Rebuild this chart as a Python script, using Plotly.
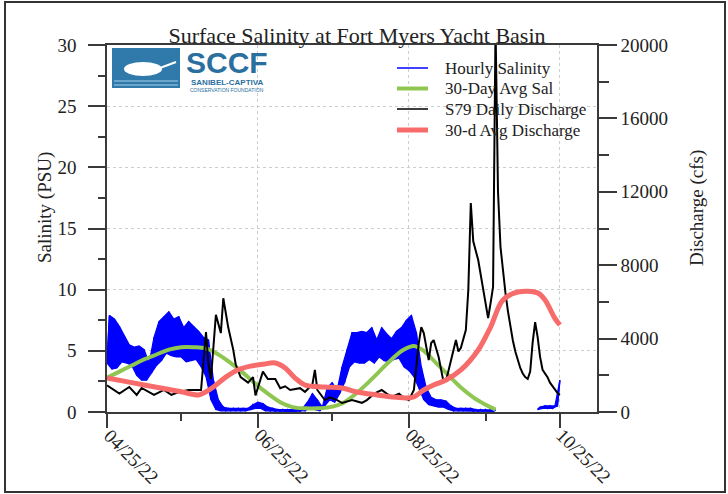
import plotly.graph_objects as go
import pandas as pd

BASE = pd.Timestamp("2022-04-25")

# ---------------- data (days since 04/25/22) ----------------
# Hourly salinity envelope (PSU) read every 2 days: low / high of the band
sal_days = list(range(0, 184, 2))
sal_lo = [4.0, 3.5, 3.6, 4.1, 4.0, 3.8, 3.0, 2.6, 2.6, 3.2,
          3.8, 4.2, 4.8, 4.6, 4.5, 4.5, 4.1, 4.2, 4.3, 3.7,
          2.9, 1.0, 0.2, 0.1, 0.1, 0.1, 0.1, 0.1, 0.1, 0.2,
          0.3, 0.3, 0.1, 0.1, 0.05, 0.05, 0.05, 0.05, 0.05, 0.05,
          0.1, 0.3, 0.2, 0.1, 0.5, 1.0, 0.8, 1.5, 2.4, 3.7,
          4.1, 4.0, 4.0, 4.3, 4.0, 4.5, 4.2, 4.1, 4.3, 4.4,
          3.7, 3.4, 2.9, 2.0, 1.0, 0.6, 0.5, 0.4, 0.4, 0.2,
          0.1, 0.1, 0.1, 0.1, 0.05, 0.05, 0.05, 0.05, 0.05, None,
          None, None, None, None, None, None, None, 0.2, 0.3, 0.3,
          0.3, 0.5]
sal_hi = [7.9, 7.6, 7.0, 6.2, 5.5, 5.3, 5.4, 5.1, 4.0, 6.1,
          7.4, 7.8, 8.2, 7.6, 7.8, 6.9, 7.4, 7.0, 6.6, 6.1,
          5.9, 2.6, 1.0, 0.4, 0.3, 0.3, 0.3, 0.3, 0.3, 0.6,
          0.8, 0.7, 0.4, 0.3, 0.2, 0.2, 0.2, 0.2, 0.2, 0.3,
          0.8, 1.5, 1.0, 0.4, 2.0, 2.4, 1.8, 3.7, 5.1, 6.5,
          6.5, 6.6, 6.5, 6.9, 5.9, 6.9, 6.4, 6.0, 6.6, 6.9,
          7.5, 7.9, 6.5, 3.7, 2.0, 1.2, 1.0, 1.0, 0.9, 0.5,
          0.3, 0.3, 0.3, 0.3, 0.2, 0.2, 0.2, 0.2, 0.15, None,
          None, None, None, None, None, None, None, 0.4, 0.5, 0.5,
          0.5, 2.6]

# 30-day average salinity (PSU)
avgsal_days = [0, 5, 10, 15, 20, 25, 30, 35, 40, 45, 50, 55, 60, 65, 70, 75, 80, 85,
               90, 95, 100, 105, 110, 115, 120, 124, 128, 133, 138, 143, 148, 153, 157]
avgsal_vals = [2.8, 3.3, 3.8, 4.3, 4.7, 5.1, 5.3, 5.3, 5.2, 4.7, 4.0, 3.2, 2.3, 1.5, 0.8, 0.4, 0.3, 0.3,
               0.4, 0.7, 1.4, 2.3, 3.3, 4.3, 5.1, 5.4, 5.0, 4.0, 3.0, 2.0, 1.2, 0.6, 0.2]

# S79 daily discharge (cfs)
dis_days = [0, 5, 9, 12, 14, 19, 23, 26, 29, 33, 38, 40, 41, 42, 44, 46, 47, 49, 51, 52,
            54, 57, 59, 60, 63, 65, 68, 70, 72, 74, 78, 80, 83, 84, 85, 88, 90, 93, 95, 99,
            103, 105, 108, 111, 113, 115, 118, 120, 122, 124, 126, 127, 128, 130, 131, 132, 134, 136, 137, 139,
            140, 141, 142, 143, 145, 146, 147, 148, 150, 152, 154, 155, 156, 157, 158, 159, 160, 161, 162, 163,
            164, 165, 166, 167, 168, 169, 170, 171, 172, 173, 174, 175, 176, 177, 178, 179, 180, 181, 182, 183]
dis_vals = [1450, 1000, 1360, 930, 1310, 930, 1200, 930, 1090, 1200, 1200, 4360, 2600, 1800, 5300, 4300, 6200, 4600, 3400, 2600,
            1900, 1600, 1900, 900, 2200, 1800, 1800, 1300, 1400, 1200, 1300, 1100, 1500, 2300, 1200, 650, 800, 650, 490, 650,
            500, 650, 1000, 1200, 1000, 820, 1000, 760, 650, 1200, 3760, 4630, 4300, 2830, 3760, 3920, 3000, 1630, 1700, 2830,
            3270, 3920, 3300, 3500, 4470, 6650, 11390, 9300, 8280, 6810, 5120, 5940, 6810, 21000, 12000, 9000, 7600, 6500, 5500, 4600,
            3900, 3300, 2800, 2400, 2100, 1900, 1800, 2200, 3800, 4900, 4100, 3000, 2300, 2100, 1900, 1600, 1400, 1200, 1040, 930]

# 30-day average discharge (cfs)
avgdis_days = [0, 10, 20, 30, 37, 40, 43, 48, 53, 58, 63, 68, 72, 76, 80, 88, 95, 101, 109, 117,
               121, 124, 128, 132, 137, 143, 150, 155, 160, 166, 174, 177, 181, 183]
avgdis_vals = [1850, 1600, 1350, 1100, 930, 1100, 1360, 1900, 2300, 2500, 2600, 2670, 2400, 1850, 1470, 1360, 1310, 1090, 930, 800,
               760, 820, 1200, 1470, 1740, 2290, 3380, 4630, 6100, 6540, 6490, 6100, 5100, 4740]

x_tick_labels = ["04/25/22", "06/25/22", "08/25/22", "10/25/22"]
series_names = ["Hourly Salinity", "30-Day Avg Sal", "S79 Daily Discharge", "30-d Avg Discharge"]


def to_date(days):
    return [BASE + pd.Timedelta(days=d) if d is not None else None for d in days]


# zigzag of the hourly band: low at day d, high at day d+1
zz_x, zz_y = [], []
for d, lo, hi in zip(sal_days, sal_lo, sal_hi):
    zz_x += [d, d + 1]
    zz_y += [lo, hi]

# filled polygons of the band (one per continuous stretch)
segments, cur = [], []
for d, lo, hi in zip(sal_days, sal_lo, sal_hi):
    if lo is None:
        if cur:
            segments.append(cur)
        cur = []
    else:
        cur.append((d, lo, hi))
if cur:
    segments.append(cur)
band_x, band_y = [], []
for seg in segments:
    xs = [s[0] + 1 for s in seg] + [s[0] for s in reversed(seg)]
    ys = [s[2] for s in seg] + [s[1] for s in reversed(seg)]
    band_x += xs + [xs[0], None]
    band_y += ys + [ys[0], None]

FONT = "Liberation Serif"
AX = "#3a3a3a"
BLUE = "#0000ff"
GREEN = "#8fc651"
RED = "#f76b6b"

fig = go.Figure()
fig.add_trace(go.Scatter(x=to_date(band_x), y=band_y, mode="lines", fill="toself", fillcolor=BLUE,
                         line=dict(color=BLUE, width=1.2), showlegend=False, hoverinfo="skip"))
fig.add_trace(go.Scatter(x=to_date(zz_x), y=zz_y, mode="lines", name=series_names[0],
                         line=dict(color=BLUE, width=1.5), connectgaps=False))
fig.add_trace(go.Scatter(x=to_date(avgsal_days), y=avgsal_vals, mode="lines", name=series_names[1],
                         line=dict(color=GREEN, width=4, shape="spline")))
fig.add_trace(go.Scatter(x=to_date(dis_days), y=dis_vals, mode="lines", name=series_names[2],
                         line=dict(color="#000000", width=2), yaxis="y2"))
fig.add_trace(go.Scatter(x=to_date(avgdis_days), y=avgdis_vals, mode="lines", name=series_names[3],
                         line=dict(color=RED, width=5, shape="spline"), yaxis="y2"))

W, H = 728, 494
L, R, T, B = 107, 597, 45, 412


def px(xp):
    return (xp - L) / (R - L)


def py(yp):
    return (B - yp) / (B - T)


tick_vals = [pd.Timestamp(s[:6] + "20" + s[6:]) for s in x_tick_labels]

fig.update_layout(
    width=W, height=H,
    margin=dict(l=L, r=W - R, t=T, b=H - B, autoexpand=False),
    paper_bgcolor="white", plot_bgcolor="white",
    font=dict(family=FONT, color="#222", size=19),
    showlegend=False,
    title=dict(text="Surface Salinity at Fort Myers Yacht Basin", x=px(357), xref="paper",
               xanchor="center", y=1 - 35 / H, yref="container", yanchor="middle",
               font=dict(family=FONT, size=22, color="#222")),
    xaxis=dict(type="date", range=[BASE, BASE + pd.Timedelta(days=198)], automargin=False,
               tickvals=tick_vals, ticktext=x_tick_labels, showticklabels=False,
               ticks="outside", ticklen=14, tickwidth=1.5, tickcolor=AX,
               minor=dict(ticks="outside", ticklen=7, tickwidth=1.5, tickcolor=AX,
                          dtick="M1", tick0="2022-04-25", showgrid=False),
               showline=True, linecolor=AX, linewidth=1.5, mirror=True,
               showgrid=True, gridcolor="#cdcdcd", griddash="dot", gridwidth=1,
               zeroline=False),
    yaxis=dict(range=[0, 30], dtick=5, ticks="outside", ticklen=17, tickwidth=1.5, tickcolor=AX,
               automargin=False,
               minor=dict(ticks="outside", ticklen=7, tickwidth=1.5, tickcolor=AX, dtick=2.5, showgrid=False),
               showline=True, linecolor=AX, linewidth=1.5,
               showgrid=True, gridcolor="#cdcdcd", griddash="dot", gridwidth=1,
               zeroline=False, ticklabelstandoff=8, tickfont=dict(size=19)),
    yaxis2=dict(range=[0, 20000], dtick=4000, overlaying="y", side="right", automargin=False,
                tickformat="d",
                ticks="outside", ticklen=18, tickwidth=1.5, tickcolor=AX,
                minor=dict(ticks="outside", ticklen=10, tickwidth=1.5, tickcolor=AX, dtick=2000, showgrid=False),
                showline=True, linecolor=AX, linewidth=1.5, showgrid=False, zeroline=False,
                tickfont=dict(size=19)),
)

annotations = [
    dict(text="Salinity (PSU)", x=px(45), y=py(208), xref="paper", yref="paper", textangle=-90,
         showarrow=False, font=dict(family=FONT, size=19, color="#222"), xanchor="center", yanchor="middle"),
    dict(text="Discharge (cfs)", x=px(697), y=py(208), xref="paper", yref="paper", textangle=-90,
         showarrow=False, font=dict(family=FONT, size=19, color="#222"), xanchor="center", yanchor="middle"),
    dict(text="<b>SCCF</b>", x=px(227), y=py(62), xref="paper", yref="paper", showarrow=False,
         font=dict(family="Liberation Sans", size=30, color="#2a6f9e"), xanchor="center", yanchor="middle"),
    dict(text="<b>SANIBEL-CAPTIVA</b>", x=px(227), y=py(82), xref="paper", yref="paper", showarrow=False,
         font=dict(family="Liberation Sans", size=8, color="#2a6f9e"), xanchor="center", yanchor="middle"),
    dict(text="CONSERVATION FOUNDATION", x=px(227), y=py(90), xref="paper", yref="paper", showarrow=False,
         font=dict(family="Liberation Sans", size=5, color="#2a6f9e"), xanchor="center", yanchor="middle"),
]

# rotated date labels under the major x ticks
for tv, lab in zip(tick_vals, x_tick_labels):
    annotations.append(dict(text=lab, x=tv, xref="x", y=py(456), yref="paper", textangle=45,
                            xshift=24.5, showarrow=False, xanchor="center", yanchor="middle",
                            font=dict(family=FONT, size=19, color="#222")))

# manual legend (text + line samples)
leg_y = [68, 88.5, 109, 130]
leg_style = [(BLUE, 1.5), (GREEN, 4), ("#000000", 1.5), (RED, 5)]
shapes = []
for name, yy, (col, wd) in zip(series_names, leg_y, leg_style):
    annotations.append(dict(text=name, x=px(443), y=py(yy), xref="paper", yref="paper", showarrow=False,
                            font=dict(family=FONT, size=17, color="#222"), xanchor="left", yanchor="middle"))
    shapes.append(dict(type="line", xref="paper", yref="paper", x0=px(397), x1=px(428), y0=py(yy), y1=py(yy),
                       line=dict(color=col, width=wd), layer="above"))

fig.update_layout(annotations=annotations)

shapes += [
    # logo block
    dict(type="rect", xref="paper", yref="paper", x0=px(112), x1=px(180), y0=py(88), y1=py(48),
         fillcolor="#2f7aab", line=dict(width=0), layer="above"),
    dict(type="circle", xref="paper", yref="paper", x0=px(124), x1=px(162), y0=py(76), y1=py(62),
         fillcolor="white", line=dict(width=0), layer="above"),
    dict(type="line", xref="paper", yref="paper", x0=px(160), x1=px(176), y0=py(68), y1=py(62),
         line=dict(color="white", width=2), layer="above"),
    dict(type="line", xref="paper", yref="paper", x0=px(114), x1=px(178), y0=py(81), y1=py(81),
         line=dict(color="#a9d0ea", width=1.2), layer="above"),
    dict(type="line", xref="paper", yref="paper", x0=px(114), x1=px(178), y0=py(85), y1=py(85),
         line=dict(color="#a9d0ea", width=1.2), layer="above"),
    # outer frame
    dict(type="rect", xref="paper", yref="paper", x0=px(5), x1=px(725), y0=py(492), y1=py(2),
         line=dict(color="#333333", width=2), fillcolor="rgba(0,0,0,0)", layer="above"),
]
fig.update_layout(shapes=shapes)

fig.write_html("out.html", config={"displayModeBar": False},
               post_script="document.body.style.margin='0px';")
